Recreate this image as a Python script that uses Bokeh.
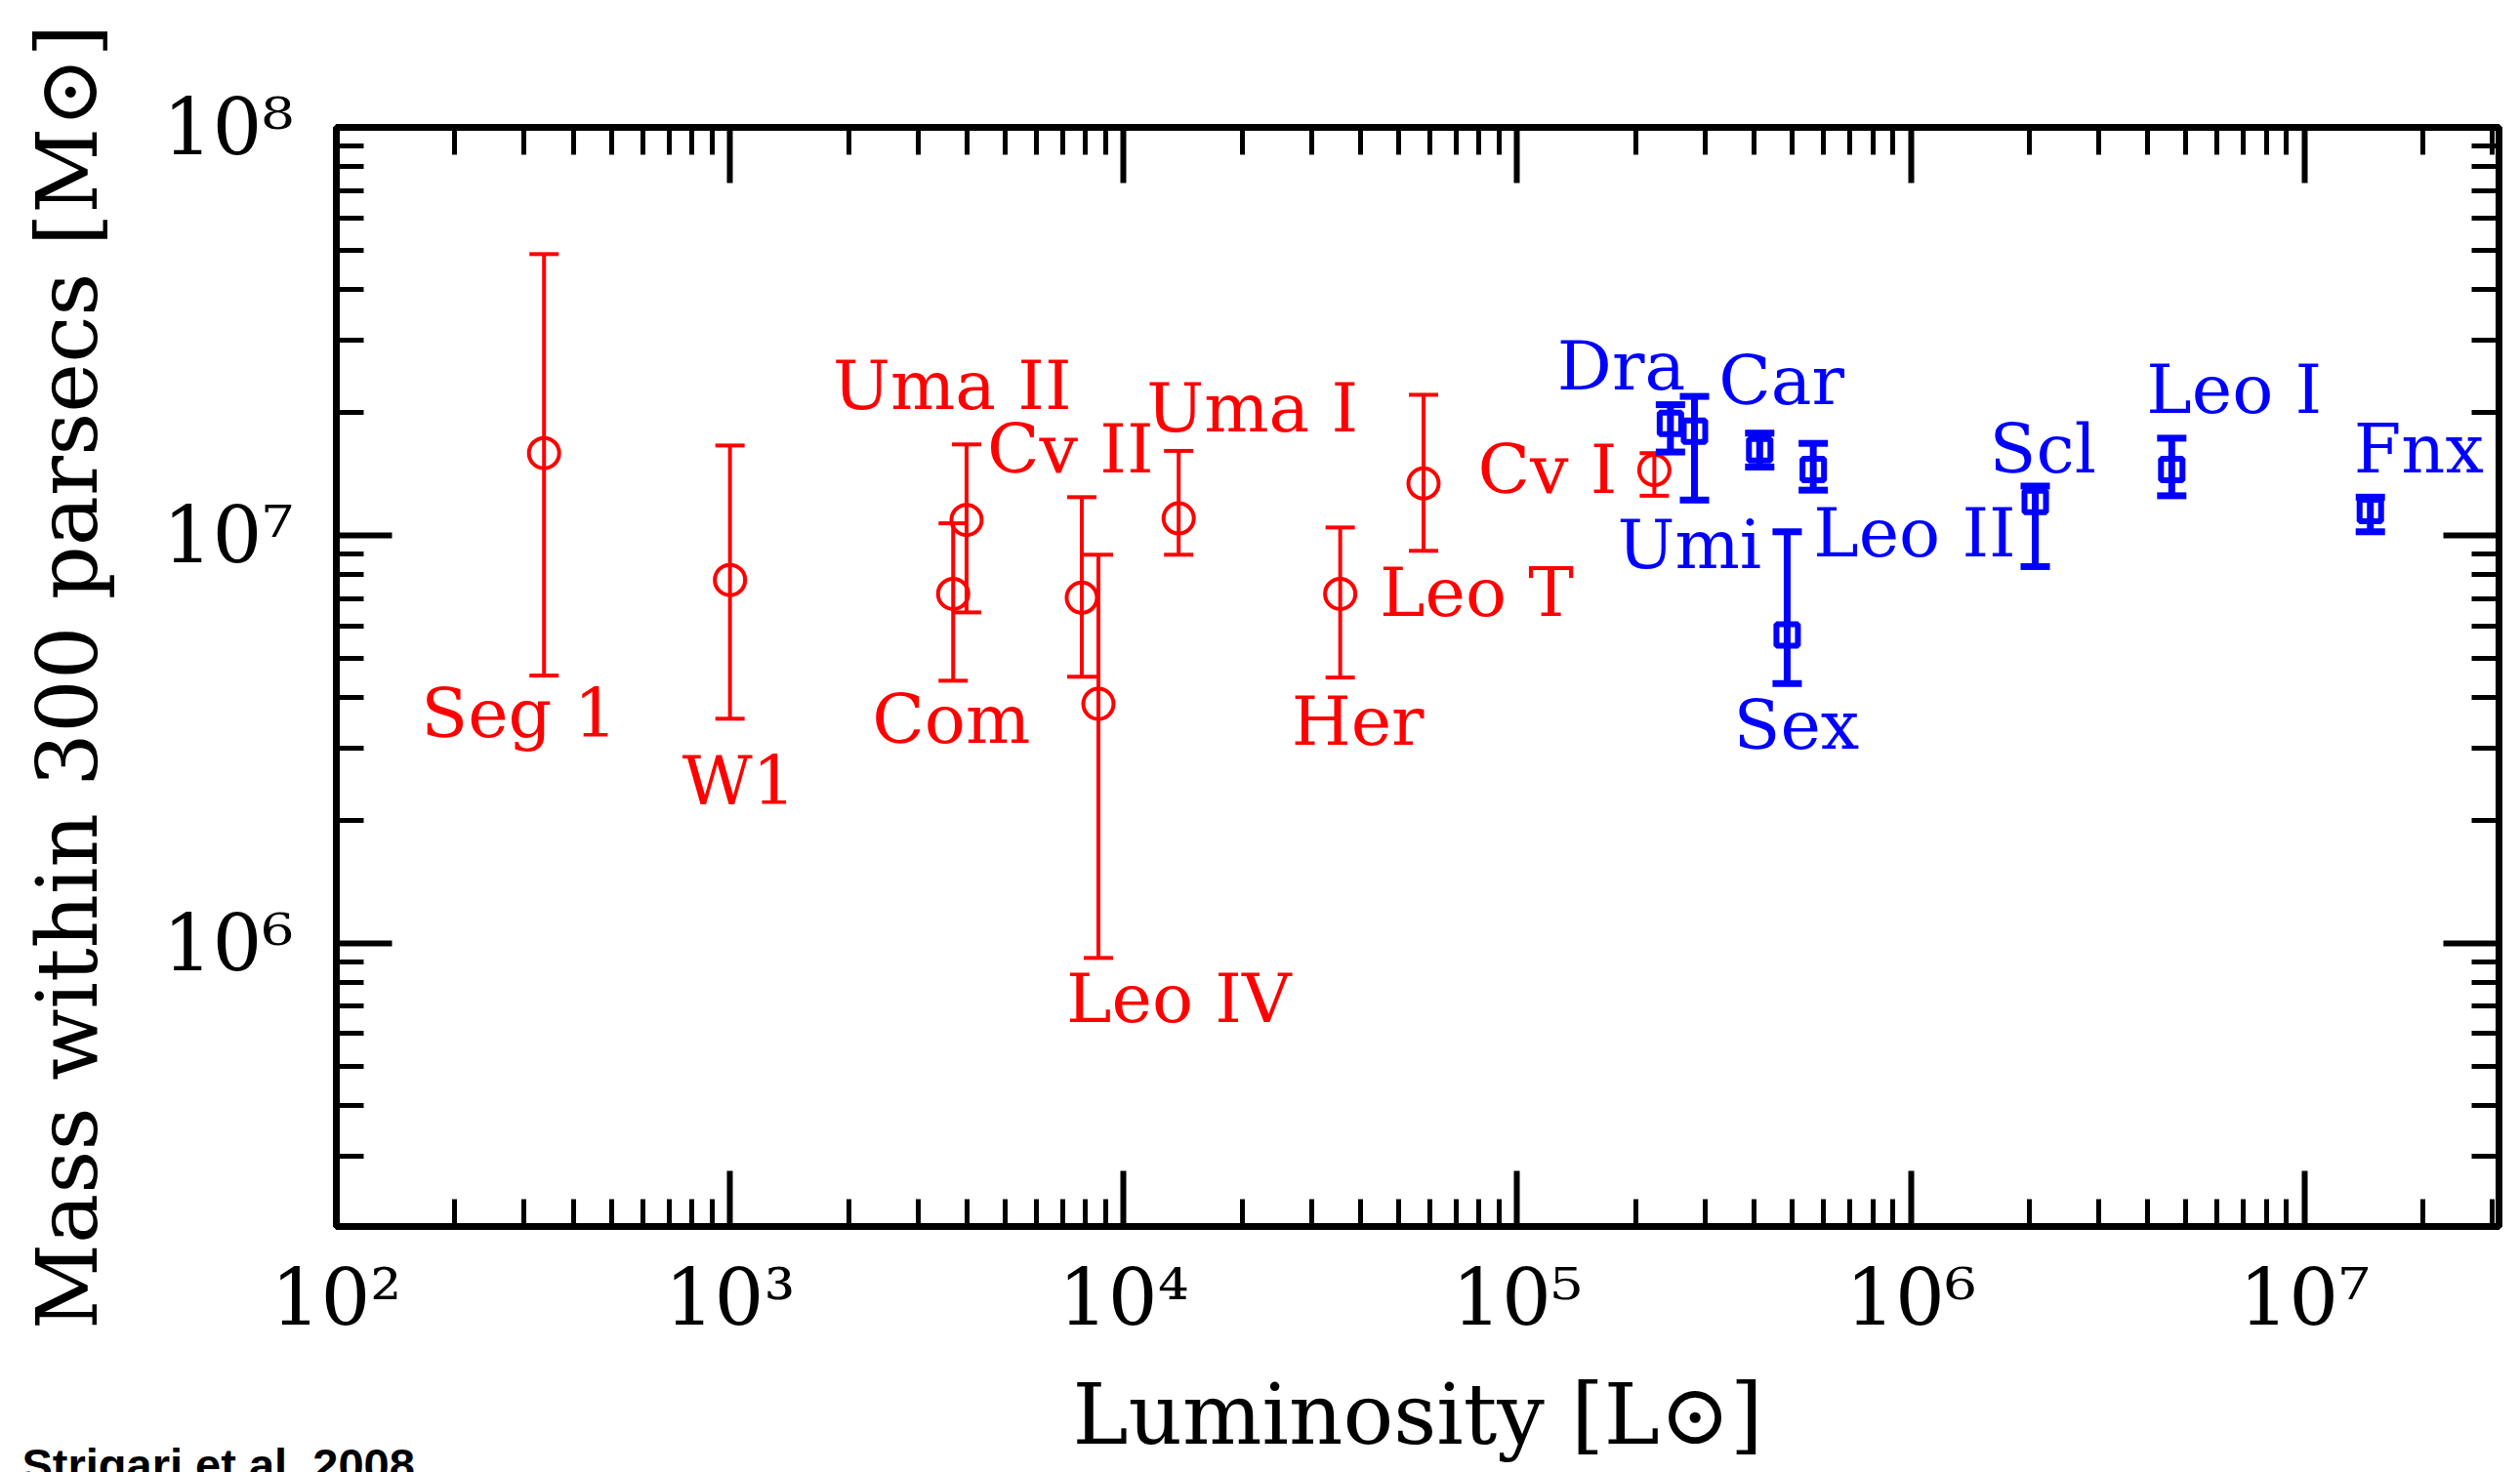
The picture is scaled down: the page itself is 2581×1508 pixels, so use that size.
from bokeh.plotting import figure
from bokeh.models import (ColumnDataSource, LogAxis, FixedTicker, Range1d,
                          CustomJSTickFormatter, Title)
from bokeh.embed import file_html
from bokeh.resources import INLINE
from bokeh.core.properties import value

# ---------------- data ----------------
uf_names = ["Seg 1", "W1", "Com", "Uma II", "Cv II", "Leo IV", "Uma I", "Her", "Leo T", "Cv I"]
uf_lum = [337, 1000, 3690, 3990, 7830, 8630, 13800, 35500, 57800, 223000]
uf_mass = [1.59e7, 7.77e6, 7.18e6, 1.09e7, 7.03e6, 3.86e6, 1.10e7, 7.18e6, 1.34e7, 1.445e7]
uf_mass_hi = [4.89e7, 1.66e7, 1.07e7, 1.67e7, 1.24e7, 8.96e6, 1.61e7, 1.045e7, 2.21e7, 1.59e7]
uf_mass_lo = [4.53e6, 3.55e6, 4.4e6, 6.47e6, 4.5e6, 9.2e5, 8.96e6, 4.48e6, 9.16e6, 1.25e7]

cl_names = ["Dra", "Umi", "Car", "Leo II", "Sex", "Scl", "Leo I", "Fnx"]
cl_lum = [2.45e5, 2.82e5, 4.13e5, 5.65e5, 4.85e5, 2.07e6, 4.6e6, 1.47e7]
cl_mass = [1.88e7, 1.8e7, 1.62e7, 1.45e7, 5.7e6, 1.21e7, 1.45e7, 1.15e7]
cl_mass_hi = [2.09e7, 2.19e7, 1.78e7, 1.68e7, 1.02e7, 1.32e7, 1.73e7, 1.24e7]
cl_mass_lo = [1.6e7, 1.22e7, 1.47e7, 1.29e7, 4.33e6, 8.38e6, 1.25e7, 1.02e7]

x_ticks = [1e2, 1e3, 1e4, 1e5, 1e6, 1e7]
x_tick_labels = ["10²", "10³", "10⁴", "10⁵", "10⁶", "10⁷"]
y_ticks = [1e6, 1e7, 1e8]
y_tick_labels = ["10⁶", "10⁷", "10⁸"]

x_label = "Luminosity [L⊙]"
y_label = "Mass within 300 parsecs [M⊙]"
credit = "Strigari et al. 2008"

# ---------------- label placement (pixel offsets from each point) ----------------
uf_dx = [-126, -49, -83, -137, -97, -33, -33, -50, -45, -181]
uf_dy = [269, 208, 131, -136, -150, 304, -111, 133, 114, 1]
cl_dx = [-116, -79, -42, 0, -55, -47, -26, -17]
cl_dy = [-57, 118, -69, 67, 95, -52, -80, -61]
BASE_SHIFT = -2

RED = "#ff0000"
BLUE = "#0000ff"
SERIF = "DejaVu Serif"

W, H = 2581, 1508
BL, BR, BT, BB = 344, 22, 130, 252

p = figure(width=W, height=H, x_axis_type="log", y_axis_type="log",
           x_range=Range1d(100, 3.12e7), y_range=Range1d(2.02e5, 1e8),
           output_backend="svg", toolbar_location=None,
           min_border_left=BL, min_border_right=BR, min_border_top=BT,
           min_border_bottom=BB, background_fill_color="white",
           border_fill_color="white")
p.grid.visible = False
p.outline_line_color = "black"
p.outline_line_width = 7

x_minor = [k * 10 ** e for e in range(2, 8) for k in range(2, 10)]
y_minor = [k * 10 ** e for e in range(5, 8) for k in range(2, 10)]

xb = p.xaxis[0]
yl = p.yaxis[0]
xt = LogAxis()
yr = LogAxis()
p.add_layout(xt, "above")
p.add_layout(yr, "right")

LABEL_JS = """
for (let i = 0; i < tvals.length; i++) {
  if (Math.abs(tick / tvals[i] - 1) < 1e-6) { return tlabels[i]; }
}
return "";
"""

xb.ticker = FixedTicker(ticks=x_ticks, minor_ticks=x_minor)
xt.ticker = FixedTicker(ticks=x_ticks, minor_ticks=x_minor)
yl.ticker = FixedTicker(ticks=y_ticks, minor_ticks=y_minor)
yr.ticker = FixedTicker(ticks=y_ticks, minor_ticks=y_minor)
xb.formatter = CustomJSTickFormatter(args=dict(tvals=x_ticks, tlabels=x_tick_labels), code=LABEL_JS)
yl.formatter = CustomJSTickFormatter(args=dict(tvals=y_ticks, tlabels=y_tick_labels), code=LABEL_JS)
xt.formatter = CustomJSTickFormatter(code='return "";')
yr.formatter = CustomJSTickFormatter(code='return "";')

for ax in (xb, yl, xt, yr):
    ax.axis_line_color = "black"
    ax.axis_line_width = 7
    ax.major_tick_line_color = "black"
    ax.major_tick_line_width = 6
    ax.major_tick_in = 57
    ax.major_tick_out = 0
    ax.minor_tick_line_color = "black"
    ax.minor_tick_line_width = 5
    ax.minor_tick_in = 28
    ax.minor_tick_out = 0

for ax in (xt, yr):
    ax.major_label_standoff = 0
    ax.major_label_text_font_size = "10px"

for ax in (xb, yl):
    ax.major_label_text_font = SERIF
    ax.major_label_text_font_size = "80px"
    ax.major_label_text_color = "black"
    ax.axis_label_text_font = SERIF
    ax.axis_label_text_font_size = "86px"
    ax.axis_label_text_font_style = "normal"
    ax.axis_label_text_color = "black"
xb.axis_label = x_label
yl.axis_label = y_label
xb.major_label_standoff = 26
xb.axis_label_standoff = 20
yl.major_label_standoff = 44
yl.axis_label_standoff = 45

# credit line, bottom-left corner, tucked under the x-axis panel
p.add_layout(Title(text=credit, align="left", offset=22 - BL, standoff=-56,
                   vertical_align="top", text_font="Liberation Sans",
                   text_font_style="bold", text_font_size="47px",
                   text_color="black"), "below")

src_uf = ColumnDataSource(dict(lum=uf_lum, mass=uf_mass, hi=uf_mass_hi, lo=uf_mass_lo,
                               name=uf_names, dx=uf_dx, dy=[d + BASE_SHIFT for d in uf_dy]))
src_cl = ColumnDataSource(dict(lum=cl_lum, mass=cl_mass, hi=cl_mass_hi, lo=cl_mass_lo,
                               name=cl_names, dx=cl_dx, dy=[d + BASE_SHIFT for d in cl_dy]))

# ultra-faint (red) points
p.segment(x0="lum", y0="lo", x1="lum", y1="hi", source=src_uf, line_color=RED, line_width=4)
p.scatter(x="lum", y="hi", marker="dash", size=30, line_color=RED, line_width=4, source=src_uf)
p.scatter(x="lum", y="lo", marker="dash", size=30, line_color=RED, line_width=4, source=src_uf)
p.scatter(x="lum", y="mass", marker="circle", size=31, fill_color=None,
          line_color=RED, line_width=4, source=src_uf)
p.text(x="lum", y="mass", text="name", x_offset="dx", y_offset="dy", source=src_uf,
       text_font=value(SERIF), text_font_size="70px", text_color=RED,
       text_align="left", text_baseline="alphabetic")

# classical (blue) points
p.segment(x0="lum", y0="lo", x1="lum", y1="hi", source=src_cl, line_color=BLUE, line_width=7)
p.scatter(x="lum", y="hi", marker="dash", size=30, line_color=BLUE, line_width=7, source=src_cl)
p.scatter(x="lum", y="lo", marker="dash", size=30, line_color=BLUE, line_width=7, source=src_cl)
p.scatter(x="lum", y="mass", marker="square", size=22, fill_color=None,
          line_color=BLUE, line_width=6, source=src_cl)
p.text(x="lum", y="mass", text="name", x_offset="dx", y_offset="dy", source=src_cl,
       text_font=value(SERIF), text_font_size="70px", text_color=BLUE,
       text_align="left", text_baseline="alphabetic")

open("out.html", "w").write(file_html(p, INLINE))
